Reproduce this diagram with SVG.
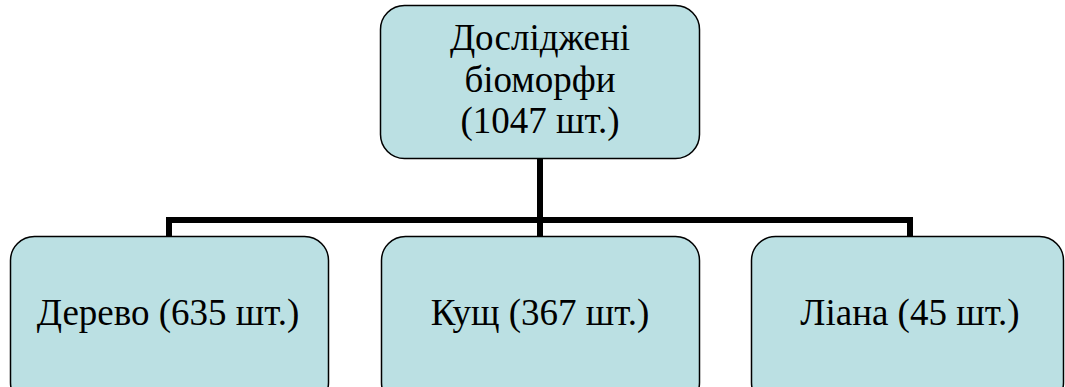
<svg xmlns="http://www.w3.org/2000/svg" width="1065" height="387" viewBox="0 0 1065 387">
<style>
.box{fill:#BBE0E3;stroke:#000;stroke-width:1.5}
.t{font-family:'Liberation Serif','Times New Roman',serif;font-size:37px;fill:#000;text-anchor:middle}
.c{fill:none;stroke:#000;stroke-width:6}
</style>
<rect width="1065" height="387" fill="#fff"/>
<g id="connectors">
<path class="c" d="M540 159 V236"/>
<path class="c" d="M169 236 V220 H910 V236"/>
</g>
<g id="root">
<rect class="box" x="380.5" y="5.5" width="319" height="153" rx="24"/>
<text class="t" x="540" y="50">Досліджені</text>
<text class="t" x="540" y="92">біоморфи</text>
<text class="t" x="540" y="133">(1047 шт.)</text>
</g>
<g id="tree">
<rect class="box" x="10.5" y="236.5" width="318" height="170" rx="24"/>
<text class="t" x="168" y="325">Дерево (635 шт.)</text>
</g>
<g id="shrub">
<rect class="box" x="381.5" y="236.5" width="318" height="170" rx="24"/>
<text class="t" x="540" y="325">Кущ (367 шт.)</text>
</g>
<g id="liana">
<rect class="box" x="751.5" y="236.5" width="312" height="170" rx="24"/>
<text class="t" x="910" y="325">Ліана (45 шт.)</text>
</g>
</svg>
